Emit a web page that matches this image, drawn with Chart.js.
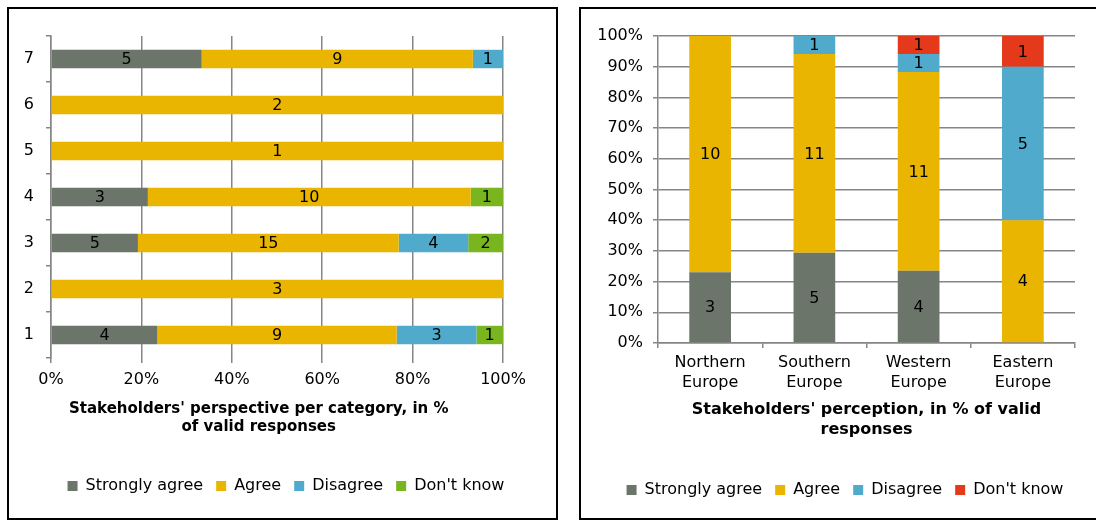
<!DOCTYPE html>
<html><head><meta charset="utf-8">
<script src="https://cdn.jsdelivr.net/npm/chart.js@4.4.0/dist/chart.umd.min.js"></script>
<style>
html,body{margin:0;padding:0;background:#fff;overflow:hidden;width:1096px;height:520px}
.box{position:absolute;border:2px solid #000;box-sizing:border-box}
#b1{left:7px;top:7px;width:551px;height:513px}
#b2{left:579px;top:7px;width:560px;height:513px}
canvas{position:absolute;top:0}
#c1{left:0}
#c2{left:579px}
</style>
</head><body>
<div class="box" id="b1"></div>
<div class="box" id="b2"></div>
<canvas id="c1" width="560" height="520"></canvas>
<canvas id="c2" width="517" height="520"></canvas>
<script>
// ---- data: left chart (counts per category) ----
const categories = ['1','2','3','4','5','6','7'];
const catStronglyAgree = [4,0,5,3,0,0,5];
const catAgree         = [9,3,15,10,1,2,9];
const catDisagree      = [3,0,4,0,0,0,1];
const catDontKnow      = [1,0,2,1,0,0,0];

// ---- data: right chart (counts per region) ----
const regions = [['Northern','Europe'],['Southern','Europe'],['Western','Europe'],['Eastern','Europe']];
const regStronglyAgree = [3,5,4,0];
const regAgree         = [10,11,11,4];
const regDisagree      = [0,1,1,5];
const regDontKnow      = [0,0,1,1];

const seriesNames = ['Strongly agree','Agree','Disagree',"Don't know"];
// trailing no-break spaces shift the centred left title a little to the left, as in the original
const leftTitle = ["Stakeholders' perspective per category, in %\u00a0\u00a0\u00a0\u00a0\u00a0\u00a0\u00a0","of valid responses\u00a0\u00a0\u00a0\u00a0\u00a0\u00a0\u00a0"];
const rightTitle = ["Stakeholders' perception, in % of valid","responses"];

const C_SA='#6b7569', C_A='#e9b500', C_D='#4faacc', C_DK_L='#78b51e', C_DK_R='#e5391b';
const GRID='#868686';
const GW=1.5;
const FONT='"DejaVu Sans", Verdana, sans-serif';

function toPct(series){
  const n = series[0].length;
  const totals = [];
  for(let i=0;i<n;i++){let t=0;series.forEach(s=>t+=s[i]);totals.push(t);}
  return series.map(s=>s.map((v,i)=>totals[i]?v/totals[i]*100:0));
}

const countLabels = {
  id:'countLabels',
  afterDatasetsDraw(chart){
    const ctx=chart.ctx;
    ctx.save();
    ctx.font='16px '+FONT;
    ctx.fillStyle='#000';
    ctx.textAlign='center';ctx.textBaseline='middle';
    chart.data.datasets.forEach((ds,i)=>{
      const meta=chart.getDatasetMeta(i);
      meta.data.forEach((el,j)=>{
        const c=ds.counts[j];
        if(!c) return;
        const p=el.getCenterPoint();
        ctx.fillText(String(c),p.x,p.y+1);
      });
    });
    ctx.restore();
  }
};

Chart.defaults.font.family=FONT;
Chart.defaults.color='#000';
Chart.defaults.animation=false;

function makeDatasets(arrs, dkColor){
  const pct=toPct(arrs);
  const colors=[C_SA,C_A,C_D,dkColor];
  return arrs.map((a,i)=>({
    label:seriesNames[i], data:pct[i], counts:a,
    backgroundColor:colors[i], borderWidth:0,
    categoryPercentage:1, barPercentage:0.4
  }));
}

const legendOpts = {
  position:'bottom',
  labels:{boxWidth:10,boxHeight:10,padding:13,font:{size:16},color:'#000'}
};

// ---- left chart ----
new Chart(document.getElementById('c1'),{
  type:'bar',
  data:{labels:categories,datasets:makeDatasets([catStronglyAgree,catAgree,catDisagree,catDontKnow],C_DK_L)},
  plugins:[countLabels],
  options:{
    responsive:false, indexAxis:'y',
    layout:{padding:{left:12,right:0,top:36,bottom:16}},
    plugins:{legend:legendOpts,tooltip:{enabled:false}},
    scales:{
      x:{type:'linear',stacked:true,min:0,max:100,position:'bottom',
        ticks:{stepSize:20,callback:v=>v+'%',font:{size:16},padding:7,color:'#000'},
        grid:{color:GRID,lineWidth:GW,tickLength:5,drawOnChartArea:true},
        border:{display:false},
        title:{display:true,text:leftTitle,font:{size:15,weight:'bold',lineHeight:1.2},color:'#000',padding:{top:0,bottom:29}},
        afterFit:s=>{s.height=107;}
      },
      y:{type:'category',stacked:true,reverse:true,
        ticks:{font:{size:16},padding:12,color:'#000'},
        grid:{color:GRID,lineWidth:GW,tickLength:5,drawOnChartArea:false,offset:true},
        border:{display:true,color:GRID,width:GW},
        afterFit:s=>{s.width=39;}
      },
      y2:{type:'category',position:'right',display:true,
        ticks:{display:false},grid:{display:false},border:{display:false},
        afterFit:s=>{s.width=57;}
      }
    }
  }
});

// ---- right chart ----
new Chart(document.getElementById('c2'),{
  type:'bar',
  data:{labels:regions,datasets:makeDatasets([regStronglyAgree,regAgree,regDisagree,regDontKnow],C_DK_R)},
  plugins:[countLabels],
  options:{
    responsive:false,
    layout:{padding:{left:15,right:0,top:36,bottom:12}},
    plugins:{legend:legendOpts,tooltip:{enabled:false}},
    scales:{
      x:{type:'category',stacked:true,
        ticks:{font:{size:16,lineHeight:1.25},padding:5,color:'#000',maxRotation:0},
        grid:{color:GRID,lineWidth:GW,tickLength:5,drawOnChartArea:false,offset:true},
        border:{display:true,color:GRID,width:GW},
        title:{display:true,text:rightTitle,font:{size:16,weight:'bold',lineHeight:1.2},color:'#000',padding:{top:0,bottom:30}},
        afterFit:s=>{s.height=126;}
      },
      y:{type:'linear',stacked:true,min:0,max:100,
        ticks:{stepSize:10,callback:v=>v+'%',font:{size:16},padding:10,color:'#000'},
        grid:{color:GRID,lineWidth:GW,tickLength:5,drawOnChartArea:true},
        border:{display:true,color:GRID,width:GW},
        afterFit:s=>{s.width=64;}
      },
      yR:{type:'linear',position:'right',display:true,
        ticks:{display:false},grid:{display:false},border:{display:false},
        afterFit:s=>{s.width=21;}
      }
    }
  }
});
</script>
</body></html>
